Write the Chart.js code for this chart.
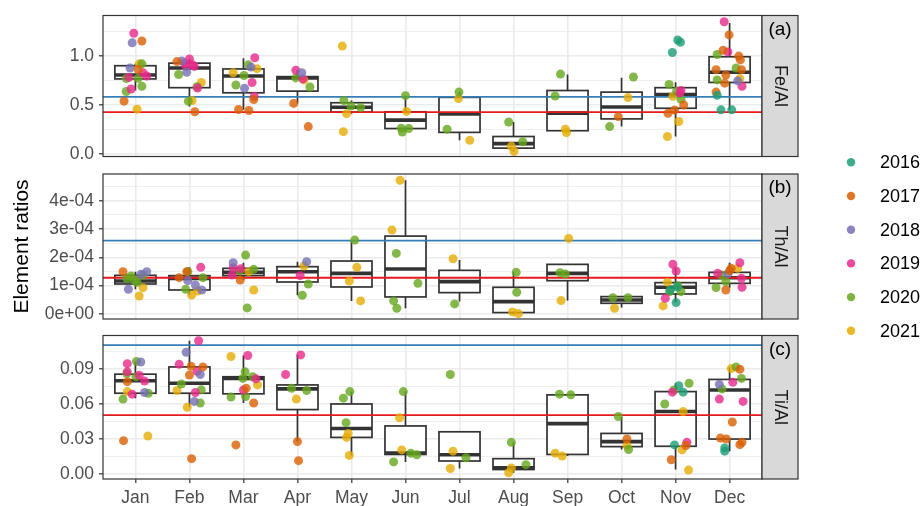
<!DOCTYPE html>
<html>
<head>
<meta charset="utf-8">
<script src="https://cdn.jsdelivr.net/npm/chart.js@4.4.1/dist/chart.umd.min.js"></script>
<style>
  body { margin: 0; background: #fff; }
  #wrap { position: relative; width: 924px; height: 506px; overflow: hidden; }
  .panel { position: absolute; left: 0; width: 924px; }
</style>
</head>
<body>
<div id="wrap">
  <div class="panel" style="top:0;height:172px"><canvas id="feChart"></canvas></div>
  <div class="panel" style="top:320px;height:186px"><canvas id="tiChart"></canvas></div>
  <div class="panel" style="top:130px;height:240px"><canvas id="thChart"></canvas></div>
</div>
<script>
const months = ['Jan', 'Feb', 'Mar', 'Apr', 'May', 'Jun', 'Jul', 'Aug', 'Sep', 'Oct', 'Nov', 'Dec'];
const years = ['2016', '2017', '2018', '2019', '2020', '2021'];
const yearColors = ['#1B9E77', '#D95F02', '#7570B3', '#E7298A', '#66A61E', '#E6AB02'];
const refColors = ['#377EB8', '#E41A1C'];

// Fe/Al
const feTicks = [0, 0.25, 0.5, 0.75, 1.0, 1.25];
const feTickLabels = ['0.0', '', '0.5', '', '1.0', ''];
const feRef = [0.583, 0.428];
// [lower whisker, q1, median, q3, upper whisker]
const feBox = [
  [0.647, 0.765, 0.804, 0.899, 0.918], [0.484, 0.676, 0.876, 0.925, 0.967], [0.451, 0.624, 0.794, 0.866, 0.974],
  [0.516, 0.641, 0.775, 0.788, 0.853], [0.412, 0.428, 0.477, 0.523, 0.546], [0.225, 0.261, 0.346, 0.431, 0.595],
  [0.141, 0.222, 0.408, 0.578, 0.631], [0.029, 0.062, 0.108, 0.180, 0.327], [0.219, 0.239, 0.418, 0.647, 0.810],
  [0.281, 0.359, 0.480, 0.631, 0.778], [0.180, 0.467, 0.605, 0.676, 0.732], [0.451, 0.729, 0.833, 0.990, 1.333]
];
// [month, jitter, year index, value]
const fePts = [
  [1, -0.03, 3, 1.229], [1, -0.06, 2, 1.131], [1, 0.12, 1, 1.150], [1, 0.07, 5, 0.918], [1, 0.12, 4, 0.918],
  [1, -0.10, 2, 0.876], [1, -0.17, 4, 0.768], [1, 0.05, 4, 0.771], [1, -0.12, 3, 0.780], [1, 0.14, 3, 0.827],
  [1, 0.21, 3, 0.794], [1, 0.05, 1, 0.860], [1, -0.08, 3, 0.663], [1, -0.17, 4, 0.637], [1, 0.12, 4, 0.690],
  [1, -0.21, 1, 0.539], [1, 0.03, 5, 0.458],
  [2, 0.00, 3, 0.967], [2, -0.09, 3, 0.925], [2, 0.06, 3, 0.908], [2, -0.06, 3, 0.892], [2, -0.14, 2, 0.948],
  [2, -0.05, 2, 0.833], [2, -0.23, 1, 0.941], [2, -0.20, 4, 0.810], [2, 0.14, 4, 0.686], [2, 0.15, 3, 0.673],
  [2, 0.22, 5, 0.729], [2, -0.02, 4, 0.539], [2, 0.05, 5, 0.546], [2, 0.10, 1, 0.431], [2, 0.09, 3, 0.892],
  [3, 0.21, 3, 0.980], [3, 0.09, 4, 0.908], [3, 0.14, 2, 0.885], [3, 0.25, 5, 0.869], [3, -0.19, 5, 0.827],
  [3, 0.01, 4, 0.800], [3, 0.16, 3, 0.729], [3, -0.14, 4, 0.703], [3, 0.02, 2, 0.670], [3, 0.20, 3, 0.588],
  [3, 0.19, 1, 0.556], [3, -0.09, 1, 0.454], [3, 0.10, 1, 0.444],
  [4, -0.03, 3, 0.853], [4, 0.08, 2, 0.827], [4, -0.03, 4, 0.775], [4, 0.12, 5, 0.755], [4, 0.10, 3, 0.765],
  [4, 0.23, 4, 0.683], [4, -0.07, 1, 0.516], [4, 0.20, 1, 0.281],
  [5, -0.17, 5, 1.098], [5, -0.14, 4, 0.546], [5, -0.01, 4, 0.490], [5, 0.17, 4, 0.474], [5, -0.09, 5, 0.412],
  [5, -0.15, 5, 0.229],
  [6, 0.00, 4, 0.595], [6, 0.02, 5, 0.435], [6, -0.08, 4, 0.265], [6, 0.06, 4, 0.261], [6, -0.06, 4, 0.225],
  [7, -0.01, 4, 0.631], [7, -0.02, 5, 0.565], [7, -0.23, 4, 0.255], [7, 0.19, 5, 0.141],
  [8, -0.09, 4, 0.327], [8, 0.17, 4, 0.127], [8, -0.04, 5, 0.082], [8, 0.01, 5, 0.029],
  [9, -0.13, 4, 0.814], [9, -0.23, 4, 0.592], [9, -0.04, 5, 0.255], [9, -0.02, 5, 0.219],
  [10, 0.22, 4, 0.784], [10, 0.12, 5, 0.575], [10, -0.06, 1, 0.382], [10, -0.22, 4, 0.281],
  [11, 0.04, 0, 1.160], [11, 0.09, 0, 1.137], [11, -0.06, 0, 1.033], [11, -0.12, 4, 0.709], [11, 0.10, 3, 0.647],
  [11, 0.08, 3, 0.625], [11, -0.05, 5, 0.588], [11, 0.10, 4, 0.559], [11, 0.02, 4, 0.640], [11, 0.15, 1, 0.500],
  [11, -0.02, 1, 0.448], [11, -0.14, 1, 0.415], [11, 0.06, 5, 0.333], [11, -0.15, 5, 0.180],
  [12, -0.10, 3, 1.346], [12, -0.01, 1, 1.212], [12, -0.03, 3, 1.039], [12, -0.12, 1, 1.056], [12, -0.23, 4, 1.013],
  [12, 0.17, 1, 0.997], [12, 0.20, 1, 0.958], [12, -0.25, 1, 0.859], [12, 0.12, 4, 0.876], [12, 0.22, 1, 0.859],
  [12, -0.07, 1, 0.804], [12, 0.19, 5, 0.768], [12, 0.15, 2, 0.745], [12, -0.23, 4, 0.755], [12, -0.09, 1, 0.722],
  [12, 0.23, 3, 0.690], [12, -0.25, 1, 0.631], [12, -0.23, 0, 0.598], [12, -0.16, 0, 0.451], [12, 0.04, 0, 0.451]
];

// Th/Al
const thTicks = [0, 0.5e-4, 1e-4, 1.5e-4, 2e-4, 2.5e-4, 3e-4, 3.5e-4, 4e-4, 4.5e-4];
const thTickLabels = ['0e+00', '', '1e-04', '', '2e-04', '', '3e-04', '', '4e-04', ''];
const thRef = [2.59e-4, 1.28e-4];
const thBox = [
  [0.87e-4, 1.059e-4, 1.165e-4, 1.365e-4, 1.494e-4], [0.671e-4, 0.847e-4, 1.259e-4, 1.353e-4, 1.647e-4],
  [1.2e-4, 1.353e-4, 1.471e-4, 1.612e-4, 1.812e-4], [0.659e-4, 1.129e-4, 1.494e-4, 1.671e-4, 1.847e-4],
  [0.459e-4, 0.953e-4, 1.435e-4, 1.871e-4, 2.612e-4], [0.2e-4, 0.6e-4, 1.588e-4, 2.753e-4, 4.729e-4],
  [0.435e-4, 0.753e-4, 1.141e-4, 1.541e-4, 1.906e-4], [0.012e-4, 0.047e-4, 0.435e-4, 0.941e-4, 1.47e-4],
  [0.471e-4, 1.176e-4, 1.435e-4, 1.753e-4, 1.753e-4], [0.224e-4, 0.376e-4, 0.494e-4, 0.612e-4, 0.612e-4],
  [0.40e-4, 0.706e-4, 0.941e-4, 1.106e-4, 1.612e-4], [0.929e-4, 1.082e-4, 1.282e-4, 1.47e-4, 1.812e-4]
];
const thPts = [
  [1, -0.23, 1, 1.494e-4], [1, -0.08, 4, 1.341e-4], [1, -0.16, 4, 1.259e-4], [1, 0.21, 2, 1.494e-4], [1, 0.14, 4, 1.376e-4],
  [1, 0.03, 4, 1.118e-4], [1, -0.13, 2, 0.871e-4], [1, 0.14, 5, 0.929e-4], [1, 0.07, 5, 0.635e-4], [1, -0.02, 4, 1.20e-4],
  [1, 0.10, 2, 1.40e-4],
  [2, -0.19, 1, 1.282e-4], [2, -0.05, 1, 1.494e-4], [2, 0.21, 3, 1.647e-4], [2, -0.03, 4, 1.494e-4], [2, -0.03, 2, 1.176e-4],
  [2, 0.25, 4, 1.282e-4], [2, 0.11, 2, 1.024e-4], [2, -0.07, 4, 0.871e-4], [2, 0.23, 2, 0.847e-4], [2, 0.15, 5, 0.812e-4],
  [2, 0.04, 5, 0.671e-4],
  [3, -0.19, 2, 1.812e-4], [3, -0.19, 3, 1.635e-4], [3, 0.04, 4, 2.082e-4], [3, -0.07, 4, 1.529e-4], [3, -0.21, 3, 1.376e-4],
  [3, -0.06, 1, 1.20e-4], [3, 0.10, 5, 1.494e-4], [3, 0.19, 4, 1.576e-4], [3, 0.19, 5, 0.847e-4], [3, 0.07, 4, 0.212e-4],
  [3, -0.05, 3, 1.60e-4],
  [4, 0.17, 2, 1.847e-4], [4, 0.12, 5, 1.694e-4], [4, 0.05, 3, 1.353e-4], [4, 0.20, 4, 1.059e-4], [4, 0.09, 4, 0.659e-4],
  [5, 0.06, 4, 2.612e-4], [5, 0.10, 5, 1.647e-4], [5, -0.04, 5, 1.165e-4], [5, 0.17, 5, 0.459e-4],
  [6, -0.10, 5, 4.729e-4], [6, -0.25, 5, 2.965e-4], [6, -0.17, 4, 2.141e-4], [6, 0.23, 4, 1.082e-4], [6, -0.22, 4, 0.459e-4],
  [6, -0.16, 4, 0.2e-4],
  [7, -0.12, 5, 1.953e-4], [7, -0.09, 4, 0.353e-4],
  [8, 0.05, 4, 1.47e-4], [8, 0.06, 4, 0.765e-4], [8, -0.02, 5, 0.071e-4], [8, 0.09, 5, 0.012e-4],
  [9, 0.02, 5, 2.671e-4], [9, -0.14, 4, 1.459e-4], [9, -0.04, 4, 1.412e-4], [9, -0.12, 5, 0.471e-4],
  [10, -0.16, 4, 0.576e-4], [10, 0.12, 4, 0.576e-4], [10, -0.13, 5, 0.2e-4],
  [11, -0.05, 3, 1.753e-4], [11, 0.01, 3, 1.518e-4], [11, -0.15, 5, 1.118e-4], [11, 0.04, 4, 1.0e-4], [11, -0.10, 0, 0.847e-4],
  [11, 0.10, 4, 0.788e-4], [11, -0.11, 4, 0.788e-4], [11, -0.19, 3, 0.553e-4], [11, 0.01, 0, 0.4e-4], [11, -0.23, 5, 0.282e-4],
  [11, 0.03, 0, 0.95e-4],
  [12, 0.19, 3, 1.812e-4], [12, 0.03, 1, 1.612e-4], [12, 0.15, 5, 1.612e-4], [12, -0.03, 2, 1.424e-4], [12, -0.22, 3, 1.435e-4],
  [12, -0.15, 4, 1.376e-4], [12, 0.22, 3, 1.259e-4], [12, -0.07, 4, 1.141e-4], [12, -0.25, 4, 0.929e-4], [12, -0.07, 1, 0.847e-4],
  [12, 0.23, 3, 0.941e-4], [12, 0.00, 1, 1.53e-4]
];

// Ti/Al
const tiTicks = [0, 0.015, 0.03, 0.045, 0.06, 0.075, 0.09, 0.105];
const tiTickLabels = ['0.00', '', '0.03', '', '0.06', '', '0.09', ''];
const tiRef = [0.1104, 0.0505];
const tiBox = [
  [0.065, 0.0692, 0.0799, 0.0855, 0.0964], [0.0572, 0.0692, 0.0777, 0.0917, 0.1141], [0.0608, 0.0687, 0.0819, 0.0833, 0.1015],
  [0.0278, 0.0552, 0.0729, 0.0763, 0.1020], [0.016, 0.0314, 0.0390, 0.060, 0.0706], [0.0104, 0.0168, 0.0180, 0.0412, 0.0706],
  [0.0048, 0.0112, 0.0165, 0.0362, 0.0362], [0.0011, 0.0039, 0.0053, 0.0132, 0.0272], [0.0154, 0.0168, 0.0432, 0.0678, 0.0684],
  [0.021, 0.0235, 0.0278, 0.0348, 0.0488], [0.0039, 0.0238, 0.0535, 0.0706, 0.0777], [0.0196, 0.0300, 0.0720, 0.0810, 0.0917]
];
const tiPts = [
  [1, 0.02, 4, 0.0964], [1, 0.10, 2, 0.0959], [1, -0.15, 3, 0.0945], [1, -0.15, 3, 0.0875], [1, -0.16, 4, 0.0861],
  [1, 0.01, 4, 0.0833], [1, 0.07, 3, 0.0845], [1, -0.15, 1, 0.0791], [1, 0.17, 3, 0.0796], [1, -0.15, 5, 0.0706],
  [1, 0.17, 2, 0.0698], [1, 0.24, 4, 0.0692], [1, -0.06, 3, 0.0684], [1, -0.23, 4, 0.0642], [1, -0.22, 1, 0.0286],
  [1, 0.23, 5, 0.0325],
  [2, 0.17, 3, 0.1141], [2, -0.06, 2, 0.1043], [2, -0.19, 3, 0.0939], [2, 0.03, 1, 0.0922], [2, 0.25, 1, 0.0917],
  [2, 0.00, 1, 0.0847], [2, 0.20, 2, 0.0852], [2, 0.14, 3, 0.0880], [2, -0.15, 4, 0.0771], [2, -0.23, 5, 0.0715],
  [2, 0.11, 3, 0.0698], [2, 0.22, 4, 0.0721], [2, 0.09, 2, 0.0622], [2, 0.20, 4, 0.0608], [2, -0.04, 5, 0.0572],
  [2, 0.04, 1, 0.0132],
  [3, -0.23, 5, 0.1006], [3, 0.08, 3, 0.1015], [3, 0.03, 4, 0.0875], [3, 0.17, 4, 0.0833], [3, -0.01, 4, 0.0819],
  [3, 0.23, 3, 0.0815], [3, 0.26, 5, 0.0763], [3, 0.00, 3, 0.0720], [3, -0.23, 4, 0.0659], [3, 0.04, 4, 0.0664],
  [3, 0.19, 1, 0.0608], [3, -0.14, 1, 0.0250], [3, 0.05, 1, 0.0735],
  [4, 0.06, 3, 0.1020], [4, -0.22, 3, 0.0852], [4, -0.11, 4, 0.0735], [4, 0.17, 4, 0.0715], [4, -0.02, 5, 0.0642],
  [4, 0.00, 1, 0.0278], [4, 0.02, 1, 0.0115],
  [5, -0.03, 4, 0.0706], [5, -0.15, 4, 0.0650], [5, -0.10, 4, 0.0440], [5, -0.06, 5, 0.0348], [5, -0.09, 5, 0.0314],
  [5, -0.04, 5, 0.0160],
  [6, -0.04, 4, 0.0706], [6, -0.11, 5, 0.0482], [6, -0.07, 5, 0.0207], [6, 0.10, 4, 0.0179], [6, 0.21, 4, 0.0165],
  [6, -0.22, 4, 0.0104],
  [7, -0.17, 4, 0.0852], [7, -0.12, 5, 0.0196], [7, 0.12, 4, 0.0140], [7, -0.17, 5, 0.0048],
  [8, -0.04, 4, 0.0272], [8, 0.23, 4, 0.0081], [8, -0.04, 5, 0.0053], [8, -0.09, 5, 0.0011],
  [9, -0.15, 4, 0.0684], [9, 0.06, 4, 0.0678], [9, -0.23, 5, 0.0179], [9, -0.10, 5, 0.0154],
  [10, -0.06, 4, 0.0493], [10, 0.10, 1, 0.0300], [10, 0.10, 5, 0.0244], [10, 0.13, 4, 0.0210],
  [11, 0.25, 4, 0.0777], [11, 0.06, 0, 0.0757], [11, 0.14, 0, 0.0701], [11, -0.06, 3, 0.0701], [11, -0.03, 4, 0.0720],
  [11, -0.20, 4, 0.0600], [11, 0.14, 5, 0.0535], [11, 0.21, 3, 0.0272], [11, -0.02, 0, 0.0250], [11, 0.19, 1, 0.0244],
  [11, 0.12, 5, 0.0207], [11, -0.08, 1, 0.0123], [11, 0.24, 5, 0.0034],
  [12, 0.12, 4, 0.0917], [12, 0.03, 5, 0.0903], [12, 0.19, 1, 0.0897], [12, 0.22, 4, 0.0819], [12, 0.06, 3, 0.0785],
  [12, -0.19, 2, 0.0768], [12, -0.14, 4, 0.0729], [12, -0.19, 3, 0.0642], [12, 0.25, 3, 0.0622], [12, 0.05, 1, 0.0446],
  [12, -0.17, 1, 0.0308], [12, -0.06, 1, 0.0300], [12, 0.23, 1, 0.0272], [12, 0.19, 1, 0.0252], [12, -0.09, 0, 0.0224],
  [12, -0.09, 0, 0.0196]
];

const FONT = '"Liberation Sans", Arial, Helvetica, sans-serif';
Chart.defaults.font.family = FONT;
const BOX_HALF = 0.38;

function alpha(hex, a) {
    const n = parseInt(hex.slice(1), 16);
    return 'rgba(' + (n >> 16) + ',' + ((n >> 8) & 255) + ',' + (n & 255) + ',' + a + ')';
}

// boxes under the points, frame + strip + legend on top
const facetPlugin = {
    id: 'facet',
    beforeDatasetsDraw(chart, args, o) {
        const { ctx, scales: { x, y } } = chart;
        ctx.save();
        ctx.strokeStyle = '#333333';
        o.box.forEach((b, i) => {
            const cx = x.getPixelForValue(i + 1);
            const hw = x.getPixelForValue(i + 1 + BOX_HALF) - cx;
            const [lo, q1, med, q3, hi] = b.map(v => y.getPixelForValue(v));
            ctx.lineWidth = 1.7;
            ctx.beginPath();
            ctx.moveTo(cx, lo); ctx.lineTo(cx, q1);
            ctx.moveTo(cx, q3); ctx.lineTo(cx, hi);
            ctx.stroke();
            ctx.fillStyle = '#ffffff';
            ctx.fillRect(cx - hw, q3, 2 * hw, q1 - q3);
            ctx.strokeRect(cx - hw, q3, 2 * hw, q1 - q3);
            ctx.lineWidth = 3.6;
            ctx.beginPath();
            ctx.moveTo(cx - hw, med); ctx.lineTo(cx + hw, med);
            ctx.stroke();
        });
        ctx.restore();
    },
    afterDraw(chart, args, o) {
        const { ctx, chartArea: a } = chart;
        const h = a.bottom - a.top;
        ctx.save();
        ctx.strokeStyle = '#333333';
        ctx.lineWidth = 1.2;
        ctx.strokeRect(a.left, a.top, a.right - a.left, h);
        // facet strip
        const sw = 36;
        ctx.fillStyle = '#D9D9D9';
        ctx.fillRect(a.right, a.top, sw, h);
        ctx.strokeRect(a.right, a.top, sw, h);
        ctx.fillStyle = '#000000';
        ctx.font = '19px ' + FONT;
        ctx.textAlign = 'center';
        ctx.textBaseline = 'middle';
        ctx.fillText(o.tag, a.right + sw / 2, a.top + 14);
        ctx.translate(a.right + sw / 2, a.top + h / 2);
        ctx.rotate(Math.PI / 2);
        ctx.fillStyle = '#1A1A1A';
        ctx.font = '18px ' + FONT;
        ctx.fillText(o.strip, 0, 0);
        ctx.restore();

        if (o.legend) {
            ctx.save();
            ctx.font = '18px ' + FONT;
            ctx.textAlign = 'left';
            ctx.textBaseline = 'middle';
            years.forEach((yr, k) => {
                const ly = o.legend.top + k * o.legend.step;
                ctx.fillStyle = alpha(yearColors[k], 0.85);
                ctx.beginPath();
                ctx.arc(o.legend.x, ly, 4.2, 0, Math.PI * 2);
                ctx.fill();
                ctx.fillStyle = '#000000';
                ctx.fillText(yr, o.legend.x + 29, ly + 1);
            });
            ctx.restore();
        }
    }
};

function makePanel(id, p) {
    const datasets = years.map((yr, k) => ({
        type: 'scatter',
        label: yr,
        order: 0,
        data: p.pts.filter(r => r[2] === k).map(r => ({ x: r[0] + r[1], y: r[3] })),
        backgroundColor: alpha(yearColors[k], 0.8),
        borderWidth: 0,
        pointRadius: 4.5
    }));
    p.ref.forEach((v, j) => datasets.push({
        type: 'line',
        order: 1,
        data: [{ x: 0.4, y: v }, { x: 12.6, y: v }],
        borderColor: refColors[j],
        borderWidth: 1.8,
        pointRadius: 0
    }));

    return new Chart(document.getElementById(id), {
        type: 'scatter',
        data: { datasets: datasets },
        plugins: [facetPlugin],
        options: {
            responsive: true,
            maintainAspectRatio: false,
            animation: false,
            events: [],
            layout: { padding: { top: p.padTop, bottom: p.padBottom, left: 0, right: 162 } },
            plugins: {
                legend: { display: false },
                tooltip: { enabled: false },
                facet: { box: p.box, strip: p.strip, tag: p.tag, legend: p.legend }
            },
            scales: {
                x: {
                    type: 'linear',
                    min: 0.4,
                    max: 12.6,
                    afterBuildTicks: s => { s.ticks = months.map((m, i) => ({ value: i + 1 })); },
                    afterFit: s => { s.height = p.showX ? 27 : 0; },
                    border: { display: false },
                    grid: { color: '#EBEBEB', lineWidth: 1.6, drawTicks: p.showX, tickLength: 4, tickColor: '#333333', tickWidth: 1.2 },
                    ticks: {
                        display: p.showX,
                        autoSkip: false,
                        maxRotation: 0,
                        padding: 5,
                        color: '#4D4D4D',
                        font: { size: 17.5 },
                        callback: v => months[v - 1]
                    }
                },
                y: {
                    min: p.min,
                    max: p.max,
                    afterBuildTicks: s => { s.ticks = p.ticks.map(v => ({ value: v })); },
                    afterFit: s => { s.width = 103; },
                    border: { display: false },
                    grid: {
                        color: '#EBEBEB',
                        lineWidth: c => p.labels[c.index] ? 1.6 : 0.8,
                        tickLength: 4,
                        tickWidth: 1.2,
                        tickColor: c => p.labels[c.index] ? '#333333' : 'rgba(0,0,0,0)'
                    },
                    ticks: {
                        autoSkip: false,
                        padding: 5,
                        color: '#4D4D4D',
                        font: { size: 17.5 },
                        callback: (v, i) => p.labels[i]
                    },
                    title: {
                        display: !!p.title,
                        text: p.title || '',
                        color: '#000000',
                        font: { size: 21 },
                        padding: { top: 10, bottom: 0 }
                    }
                }
            }
        }
    });
}

makePanel('feChart', {
    pts: fePts, box: feBox, ref: feRef, ticks: feTicks, labels: feTickLabels,
    min: -0.023, max: 1.409, padTop: 14, padBottom: 12, showX: false, strip: 'Fe/Al', tag: '(a)'
});
makePanel('tiChart', {
    pts: tiPts, box: tiBox, ref: tiRef, ticks: tiTicks, labels: tiTickLabels,
    min: -0.0042, max: 0.1186, padTop: 13, padBottom: 0, showX: true, strip: 'Ti/Al', tag: '(c)'
});
makePanel('thChart', {
    pts: thPts, box: thBox, ref: thRef, ticks: thTicks, labels: thTickLabels,
    min: -0.18e-4, max: 4.95e-4, padTop: 44, padBottom: 51, showX: false, strip: 'Th/Al', tag: '(b)',
    title: 'Element ratios', legend: { x: 851, top: 32.3, step: 33.7 }
});
</script>
</body>
</html>
